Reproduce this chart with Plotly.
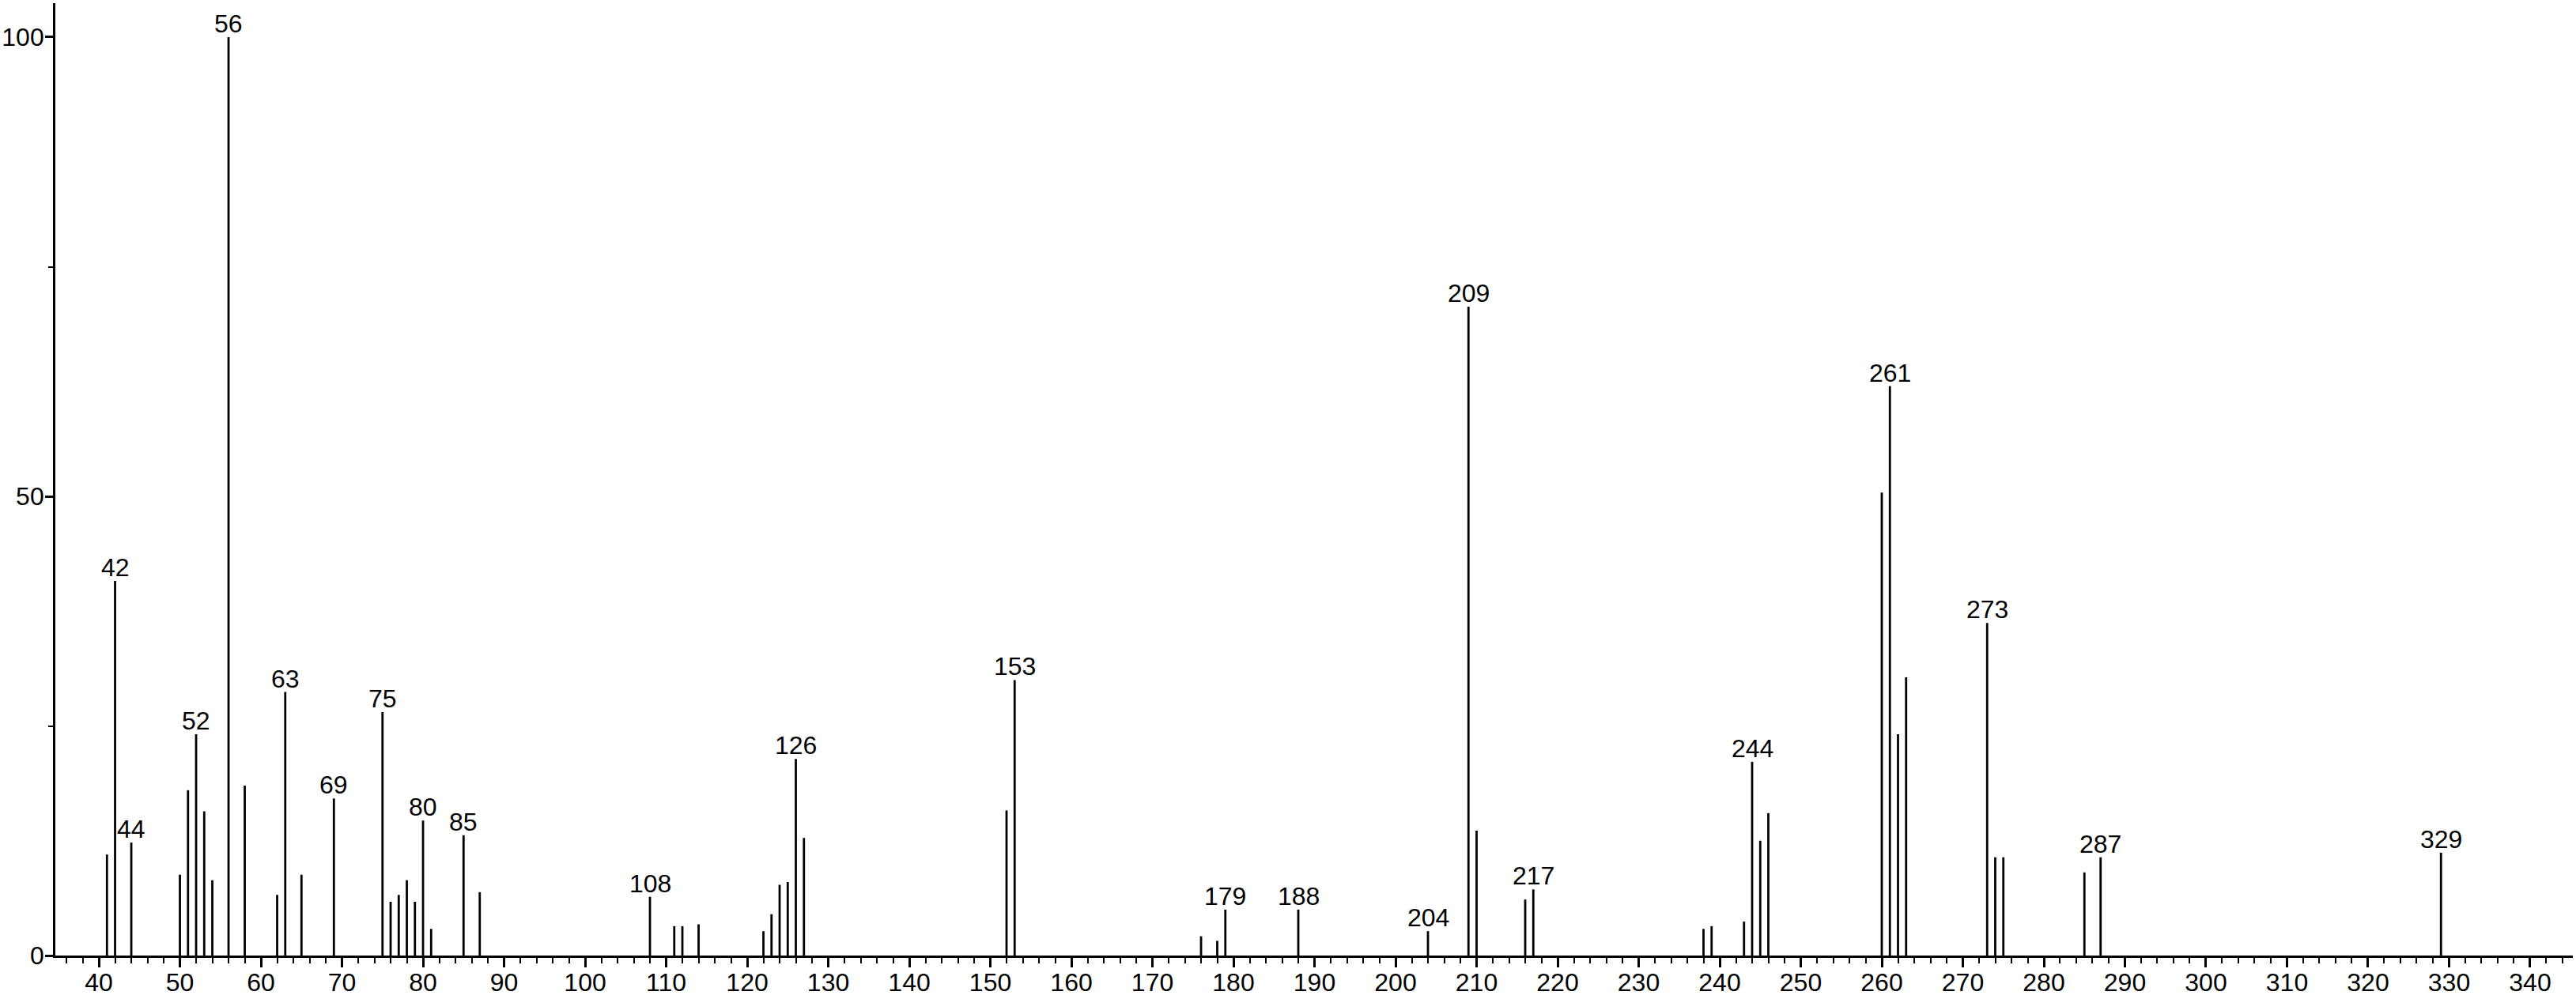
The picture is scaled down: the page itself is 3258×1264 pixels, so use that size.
import plotly.graph_objects as go

# m/z values and relative intensities
mz = [41, 42, 44, 50, 51, 52, 53, 54, 56, 58, 62, 63, 65, 69, 75, 76, 77, 78, 79, 80, 81, 85, 87,
      108, 111, 112, 114, 122, 123, 124, 125, 126, 127, 152, 153, 176, 178, 179, 188, 204,
      209, 210, 216, 217, 238, 239, 243, 244, 245, 246, 260, 261, 262, 263, 273, 274, 275,
      285, 287, 329]
intensity = [11.0, 40.8, 12.3, 8.8, 18.0, 24.1, 15.7, 8.2, 100.0, 18.5, 6.6, 28.7, 8.8, 17.1, 26.5,
             5.85, 6.6, 8.2, 5.85, 14.7, 2.9, 13.1, 6.9,
             6.4, 3.2, 3.2, 3.4, 2.65, 4.5, 7.7, 8.0, 21.4, 12.8, 15.8, 30.0, 2.1, 1.6, 5.0, 5.0, 2.65,
             70.65, 13.6, 6.1, 7.2, 2.9, 3.2, 3.7, 21.1, 12.5, 15.5, 50.4, 62.0, 24.1, 30.3, 36.2, 10.7, 10.7,
             9.05, 10.7, 11.2]
labeled_mz = [42, 44, 52, 56, 63, 69, 75, 80, 85, 108, 126, 153, 179, 188, 204, 209, 217, 244, 261,
              273, 287, 329]

x_tick_vals = list(range(40, 341, 10))
x_tick_text = [str(v) for v in x_tick_vals]
y_tick_vals = [0, 50, 100]
y_tick_text = ["0", "50", "100"]
y_minor_vals = [25, 75]

FONT = "Liberation Sans Narrow, Arial Narrow, Liberation Sans, Arial, sans-serif"
FS = 32

xs, ys = [], []
for m, v in zip(mz, intensity):
    xs += [m, m, None]
    ys += [0, v, None]

fig = go.Figure()
fig.add_trace(go.Scatter(x=xs, y=ys, mode="lines",
                         line=dict(color="black", width=2.8),
                         hoverinfo="skip", showlegend=False))

lookup = dict(zip(mz, intensity))
for m in labeled_mz:
    fig.add_annotation(x=m, y=lookup[m], text=str(m), showarrow=False,
                       xanchor="center", yanchor="bottom", yshift=-3,
                       font=dict(family=FONT, size=FS, color="black"))

fig.update_layout(
    width=3258, height=1264,
    margin=dict(l=70, r=4, t=4, b=55),
    paper_bgcolor="white", plot_bgcolor="white",
    showlegend=False,
    font=dict(family=FONT, size=FS, color="black"),
    xaxis=dict(range=[34.63, 345.27], showgrid=False, zeroline=False, automargin=False,
               showline=True, linecolor="black", linewidth=2.8,
               tickmode="array", tickvals=x_tick_vals, ticktext=x_tick_text,
               ticks="outside", ticklen=12, tickwidth=2.5, tickcolor="black",
               ticklabelstandoff=-8,
               minor=dict(dtick=2, tick0=0, ticks="outside", ticklen=7, tickwidth=2.2, tickcolor="black"),
               tickfont=dict(family=FONT, size=FS, color="black")),
    yaxis=dict(range=[0, 103.7], showgrid=False, zeroline=False, automargin=False,
               showline=True, linecolor="black", linewidth=2.8,
               tickmode="array", tickvals=y_tick_vals, ticktext=y_tick_text,
               ticks="outside", ticklen=10, tickwidth=2.5, tickcolor="black",
               ticklabelstandoff=-5,
               minor=dict(tickmode="array", tickvals=y_minor_vals, ticks="outside",
                          ticklen=6, tickwidth=2.2, tickcolor="black"),
               tickfont=dict(family=FONT, size=FS, color="black")),
)

fig.write_html("out.html", config={"displayModeBar": False},
               post_script="document.body.style.margin='0';document.body.style.overflow='hidden';")
